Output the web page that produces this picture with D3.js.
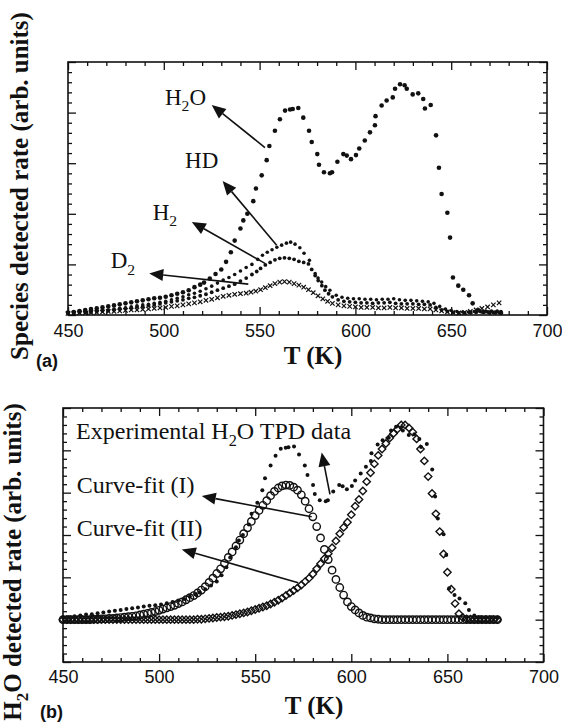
<!DOCTYPE html>
<html>
<head>
<meta charset="utf-8">
<script src="https://cdn.jsdelivr.net/npm/d3@7"></script>
<style>
  body { margin: 0; background: #fff; }
  svg { display: block; }
</style>
</head>
<body>
<svg id="chart"></svg>
<script>
// ---- data (T in K, rate in arbitrary units) ----
// panel (a): TPD spectra, [T, rate]
const h2oPts = [[450,0.05],[453,0.06],[456,0.08],[459,0.1],[462,0.12],[465,0.13],[468,0.15],[471,0.17],[474,0.19],[477,0.21],
  [480,0.23],[483,0.25],[486,0.27],[489,0.29],[492,0.31],[495,0.33],[498,0.34],[501,0.36],[504,0.39],[507,0.42],
  [510,0.45],[513,0.49],[516,0.55],[519,0.6],[521,0.64],[524,0.72],[527,0.81],[530,0.9],[532.5,1.05],[535,1.24],
  [537,1.47],[540,1.71],[541.5,1.87],[543.6,2.0],[546.7,2.25],[548.1,2.5],[551.1,2.76],[553.7,3.06],[555.1,3.34],[558,3.64],
  [560.6,3.87],[563.3,4.04],[565.9,4.06],[567.3,4.07],[570.2,4.09],[572.8,3.9],[575.8,3.64],[577.2,3.42],[580.1,3.18],[581,2.97],
  [583.6,2.82],[586.7,2.8],[587.8,2.82],[590.6,3.03],[593.7,3.18],[595.5,3.15],[597.7,3.08],[600.3,3.16],[602,3.29],[604.9,3.45],
  [607.6,3.61],[610.2,3.75],[610.5,3.93],[613.7,4.14],[616.3,4.24],[619.5,4.3],[620.7,4.47],[623.3,4.56],[625.7,4.54],[626.8,4.47],
  [629.9,4.36],[632.8,4.38],[635.4,4.27],[636.3,4.08],[639.3,4.15],[642.1,3.55],[643.6,2.91],[645,2.39],[648,2.02],[649.4,1.53],
  [650.9,0.74],[653.7,0.58],[656.3,0.5],[659.3,0.39],[661.2,0.23],[664,0.1],[667,0.06],[670,0.05],[673,0.05],[676,0.04]];

const hdPts = [[450,0.05],[453,0.05],[456,0.06],[459,0.07],[462,0.07],[465,0.08],[468,0.09],[471,0.1],[474,0.12],[477,0.13],
  [480,0.14],[483,0.16],[486,0.18],[489,0.2],[492,0.21],[495,0.23],[498,0.25],[501,0.27],[504,0.3],[507,0.33],
  [510,0.36],[513,0.4],[516,0.43],[519,0.47],[522,0.52],[525,0.57],[528,0.63],[531,0.69],[534,0.74],[537,0.8],
  [540,0.87],[543,0.94],[546,1.0],[549,1.1],[551.5,1.18],[554,1.24],[556.5,1.29],[559,1.34],[561.5,1.38],[564,1.42],
  [566.2,1.44],[568.5,1.4],[571,1.33],[573.2,1.22],[576,1.08],[579,0.82],[580.5,0.73],[582.4,0.65],[584.5,0.56],[586.7,0.49],
  [590,0.39],[593,0.35],[596,0.33],[599,0.32],[602,0.32],[605,0.31],[608,0.31],[611,0.3],[614,0.31],[617,0.31],
  [620,0.32],[623,0.3],[626,0.29],[629,0.29],[632,0.28],[635,0.27],[638,0.26],[641,0.23],[644,0.17],[647,0.12],
  [650,0.09],[653,0.07],[656,0.06],[659,0.06],[662,0.07],[665,0.07],[668,0.08],[671,0.08],[674,0.08],[676,0.07]];

const h2Pts = [[450,0.04],[453,0.04],[456,0.05],[459,0.05],[462,0.06],[465,0.07],[468,0.08],[471,0.09],[474,0.1],[477,0.12],
  [480,0.13],[483,0.14],[486,0.16],[489,0.17],[492,0.19],[495,0.2],[498,0.22],[501,0.24],[504,0.26],[507,0.28],
  [510,0.3],[513,0.33],[516,0.35],[519,0.38],[522,0.41],[525,0.45],[528,0.49],[531,0.53],[534,0.57],[537,0.61],
  [540,0.67],[543,0.73],[546,0.8],[548.5,0.86],[550.5,0.92],[553,0.99],[555.5,1.04],[558,1.09],[560.5,1.12],[563,1.13],
  [565.5,1.12],[568,1.1],[570.5,1.06],[573,1.04],[575.5,1.01],[577.2,0.9],[579,0.78],[580.6,0.68],[582.5,0.58],[584.1,0.49],
  [586,0.42],[588,0.36],[591,0.3],[594,0.27],[597,0.26],[600,0.25],[603,0.24],[606,0.24],[609,0.23],[612,0.24],
  [615,0.24],[618,0.25],[621,0.23],[624,0.22],[627,0.22],[630,0.22],[633,0.21],[636,0.21],[639,0.2],[642,0.15],
  [645,0.1],[648,0.07],[651,0.05],[654,0.04],[657,0.04],[660,0.05],[663,0.05],[666,0.06],[669,0.06],[672,0.05],[675,0.05]];

const d2Pts = [[450,0.03],[453,0.03],[456,0.04],[459,0.04],[462,0.05],[465,0.05],[468,0.06],[471,0.07],[474,0.07],[477,0.08],
  [480,0.09],[483,0.1],[486,0.1],[489,0.11],[492,0.12],[495,0.13],[498,0.14],[501,0.15],[504,0.17],[507,0.18],
  [510,0.2],[513,0.22],[516,0.24],[519,0.26],[522,0.29],[525,0.31],[528,0.34],[531,0.37],[534,0.39],[537,0.41],
  [540,0.42],[543,0.43],[545.5,0.45],[548,0.47],[550.5,0.5],[553,0.54],[555.5,0.58],[558,0.62],[560.5,0.65],[563,0.66],
  [565.5,0.65],[568,0.62],[570.5,0.59],[573,0.55],[575.5,0.5],[578,0.44],[580.5,0.38],[583,0.32],[585.5,0.27],[588,0.23],
  [591,0.2],[594,0.18],[597,0.17],[600,0.16],[603,0.15],[606,0.15],[609,0.15],[612,0.14],[615,0.14],[618,0.15],
  [621,0.14],[624,0.14],[627,0.13],[630,0.13],[633,0.13],[636,0.12],[639,0.12],[642,0.1],[645,0.08],[648,0.06],
  [651,0.05],[654,0.04],[657,0.05],[660,0.07],[663,0.1],[666,0.13],[669,0.16],[672,0.2],[675,0.24]];

// panel (b): curve fits on a common temperature grid
const fitT = [450,452,454,456,458,460,462,464,466,468,
  470,472,474,476,478,480,482,484,486,488,
  490,492,494,496,498,500,502,504,506,508,
  510,512,514,516,518,520,522,524,526,528,
  530,532,534,536,538,540,542,544,546,548,
  550,552,554,556,558,560,562,564,566,568,
  570,572,574,576,578,580,582,584,586,588,
  590,592,594,596,598,600,602,604,606,608,
  610,612,614,616,618,620,622,624,626,628,
  630,632,634,636,638,640,642,644,646,648,
  650,652,654,656,658,660,662,664,666,668,
  670,672,674,676];
const fit1 = [0,0,0,0,0,0,0,0,0.01,0.01,
  0.02,0.02,0.03,0.03,0.04,0.05,0.06,0.07,0.08,0.09,
  0.11,0.13,0.15,0.17,0.19,0.22,0.25,0.28,0.31,0.34,
  0.38,0.42,0.47,0.52,0.57,0.63,0.7,0.78,0.88,0.98,
  1.09,1.2,1.33,1.47,1.6,1.74,1.88,2.03,2.17,2.32,
  2.46,2.58,2.7,2.81,2.93,3.03,3.11,3.16,3.18,3.17,
  3.13,3.06,2.95,2.8,2.62,2.43,2.2,1.93,1.66,1.42,
  1.17,0.95,0.76,0.58,0.42,0.31,0.23,0.16,0.1,0.06,
  0.04,0.02,0.01,0,0,0,0,0,0,0,
  0,0,0,0,0,0,0,0,0,0,
  0,0,0,0,0,0,0,0,0,0,
  0,0,0,0];
const fit2 = [0,0,0,0,0,0,0,0,0,0,
  0,0,0,0,0,0,0,0,0,0,
  0,0,0,0,0,0,0,0,0,0,
  0,0,0,0,0,0.01,0.01,0.02,0.03,0.04,
  0.05,0.06,0.07,0.08,0.1,0.12,0.14,0.16,0.18,0.21,
  0.24,0.27,0.3,0.33,0.37,0.41,0.46,0.51,0.57,0.63,
  0.69,0.75,0.82,0.9,0.98,1.08,1.2,1.32,1.44,1.56,
  1.7,1.86,2.03,2.18,2.3,2.48,2.68,2.84,3.04,3.26,
  3.47,3.68,3.88,4.03,4.16,4.29,4.4,4.5,4.6,4.6,
  4.53,4.43,4.27,4.03,3.75,3.38,2.98,2.5,2.08,1.55,
  1.12,0.72,0.38,0.14,0.05,0.02,0.01,0,0,0,
  0,0,0,0];

// axis ticks
const xMajor = [450, 500, 550, 600, 650, 700];
const xMinor = [460,470,480,490,510,520,530,540,560,570,580,590,610,620,630,640,660,670,680,690];
const yMajorA = [0, 1, 2, 3, 4, 5];
const yMinorA = [0.2,0.4,0.6,0.8,1.2,1.4,1.6,1.8,2.2,2.4,2.6,2.8,3.2,3.4,3.6,3.8,4.2,4.4,4.6,4.8];
const yMajorB = [-1, 0, 1, 2, 3, 4, 5];
const yMinorB = [-0.8,-0.6,-0.4,-0.2,0.2,0.4,0.6,0.8,1.2,1.4,1.6,1.8,2.2,2.4,2.6,2.8,3.2,3.4,3.6,3.8,4.2,4.4,4.6,4.8];

// annotations, in data units: [T, rate]
const labelsA = [
  {text: "H_2O", at: [500.6, 4.15]},
  {text: "HD",   at: [511.1, 2.90]},
  {text: "H_2",  at: [494.2, 1.88]},
  {text: "D_2",  at: [472.3, 0.92]}
];
const arrowsA = [
  {from: [552.8, 3.31], to: [525.0, 4.15]},
  {from: [558.9, 1.38], to: [530.7, 2.65]},
  {from: [552.8, 1.02], to: [514.6, 1.84]},
  {from: [544.1, 0.61], to: [492.4, 0.82]}
];
const labelsB = [
  {text: "Experimental H_2O TPD data", at: [456.8, 4.27]},
  {text: "Curve-fit (I)",  at: [457.1, 3.0]},
  {text: "Curve-fit (II)", at: [457.1, 1.98]}
];
const arrowsB = [
  {from: [588.9, 2.96], to: [584.6, 3.95]},
  {from: [579.4, 2.43], to: [522.2, 2.92]},
  {from: [572.4, 0.87], to: [511.8, 1.66]}
];

// ---- drawing ----
const width = 562, height = 723;
const ink = "#111";
const serif = "'Liberation Serif', 'Times New Roman', serif";
const sans = "'Liberation Sans', Arial, sans-serif";

const svg = d3.select("#chart").attr("width", width).attr("height", height);

const boxA = {left: 68, right: 547, top: 62, bottom: 315};
const boxB = {left: 63, right: 543.5, top: 408, bottom: 662};

const xA = d3.scaleLinear().domain([450, 700]).range([boxA.left, boxA.right]);
const yA = d3.scaleLinear().domain([0, 5]).range([boxA.bottom, boxA.top]);
const xB = d3.scaleLinear().domain([450, 700]).range([boxB.left, boxB.right]);
const yB = d3.scaleLinear().domain([-1, 5]).range([boxB.bottom, boxB.top]);

function drawAxes(box, x, y, yMajor, yMinor, pad) {
    let g = svg.append("g");
    let put = (axis, tx, ty) => g.append("g").attr("transform", `translate(${tx},${ty})`).call(axis);

    put(d3.axisBottom(x).tickValues(xMajor).tickSize(-8).tickPadding(pad).tickFormat(d3.format("d")), 0, box.bottom);
    put(d3.axisBottom(x).tickValues(xMinor).tickSize(-4).tickFormat(""), 0, box.bottom);
    put(d3.axisTop(x).tickValues(xMajor).tickSize(-8).tickFormat(""), 0, box.top);
    put(d3.axisTop(x).tickValues(xMinor).tickSize(-4).tickFormat(""), 0, box.top);
    put(d3.axisLeft(y).tickValues(yMajor).tickSize(-8).tickFormat(""), box.left, 0);
    put(d3.axisLeft(y).tickValues(yMinor).tickSize(-4).tickFormat(""), box.left, 0);
    put(d3.axisRight(y).tickValues(yMajor).tickSize(-8).tickFormat(""), box.right, 0);
    put(d3.axisRight(y).tickValues(yMinor).tickSize(-4).tickFormat(""), box.right, 0);

    g.selectAll(".domain").remove();
    g.selectAll(".tick line").attr("stroke", ink).attr("stroke-width", 1.3);
    g.selectAll(".tick text")
        .attr("font-family", sans)
        .attr("font-size", 18)
        .attr("fill", ink);

    g.append("rect")
        .attr("x", box.left).attr("y", box.top)
        .attr("width", box.right - box.left).attr("height", box.bottom - box.top)
        .attr("fill", "none").attr("stroke", ink).attr("stroke-width", 1.6);
}

// text with "_x" meaning subscript x
function richText(g, str, px, py, size) {
    let t = g.append("text").attr("x", px).attr("y", py)
        .attr("font-family", serif).attr("font-size", size).attr("fill", ink);
    let sub = false;
    str.split(/(_\w)/).forEach(p => {
        if (!p) return;
        if (p[0] === "_") {
            t.append("tspan").attr("font-size", size * 0.68).attr("dy", size * 0.28).text(p.slice(1));
            sub = true;
        } else {
            t.append("tspan").attr("dy", sub ? -size * 0.28 : 0).text(p);
            sub = false;
        }
    });
    return t;
}

function drawArrow(g, x, y, a) {
    let x1 = x(a.from[0]), y1 = y(a.from[1]);
    let x2 = x(a.to[0]), y2 = y(a.to[1]);
    let ang = Math.atan2(y2 - y1, x2 - x1);
    let len = 14, hw = 6;
    let bx = x2 - len * Math.cos(ang), by = y2 - len * Math.sin(ang);
    g.append("line")
        .attr("x1", x1).attr("y1", y1).attr("x2", bx).attr("y2", by)
        .attr("stroke", ink).attr("stroke-width", 1.6);
    g.append("path")
        .attr("d", `M${x2},${y2}L${bx - hw * Math.sin(ang)},${by + hw * Math.cos(ang)}` +
                   `L${bx + hw * Math.sin(ang)},${by - hw * Math.cos(ang)}Z`)
        .attr("fill", ink);
}

// ---------- panel (a) ----------
drawAxes(boxA, xA, yA, yMajorA, yMinorA, 9);

let ga = svg.append("g");

ga.append("g").selectAll("path").data(d2Pts).join("path")
    .attr("transform", d => `translate(${xA(d[0])},${yA(d[1])})`)
    .attr("d", "M-2.2,-2.2L2.2,2.2M-2.2,2.2L2.2,-2.2")
    .attr("stroke", ink).attr("stroke-width", 1.2);

[[h2Pts, 1.9], [hdPts, 1.8], [h2oPts, 2.3]].forEach(([pts, r]) => {
    ga.append("g").selectAll("circle").data(pts).join("circle")
        .attr("cx", d => xA(d[0])).attr("cy", d => yA(d[1])).attr("r", r)
        .attr("fill", ink);
});

arrowsA.forEach(a => drawArrow(ga, xA, yA, a));
labelsA.forEach(l => richText(ga, l.text, xA(l.at[0]), yA(l.at[1]), 23));

// ---------- panel (b) ----------
drawAxes(boxB, xB, yB, yMajorB, yMinorB, 8);

let gb = svg.append("g");

gb.append("g").selectAll("circle").data(fitT).join("circle")
    .attr("cx", d => xB(d)).attr("cy", (d, i) => yB(fit1[i])).attr("r", 3.7)
    .attr("fill", "none").attr("stroke", ink).attr("stroke-width", 1.4);

gb.append("g").selectAll("path").data(fitT).join("path")
    .attr("transform", (d, i) => `translate(${xB(d)},${yB(fit2[i])})`)
    .attr("d", "M0,-3.7L3.7,0L0,3.7L-3.7,0Z")
    .attr("fill", "none").attr("stroke", ink).attr("stroke-width", 1.4);

gb.append("g").selectAll("circle").data(h2oPts).join("circle")
    .attr("cx", d => xB(d[0])).attr("cy", d => yB(d[1])).attr("r", 2)
    .attr("fill", ink);

arrowsB.forEach(a => drawArrow(gb, xB, yB, a));
labelsB.forEach(l => richText(gb, l.text, xB(l.at[0]), yB(l.at[1]), 24));

// ---------- titles ----------
let titleA = svg.append("g").attr("transform", "translate(28,186) rotate(-90)");
richText(titleA, "Species detected rate (arb. units)", 0, 0, 25)
    .attr("font-weight", "bold").attr("text-anchor", "middle");

let titleB = svg.append("g").attr("transform", "translate(21,562) rotate(-90)");
richText(titleB, "H_2O detected rate (arb. units)", 0, 0, 25)
    .attr("font-weight", "bold").attr("text-anchor", "middle");

svg.append("text").attr("x", 313).attr("y", 364)
    .attr("text-anchor", "middle").attr("font-family", serif).attr("font-weight", "bold")
    .attr("font-size", 25).attr("fill", ink).text("T (K)");
svg.append("text").attr("x", 314).attr("y", 714)
    .attr("text-anchor", "middle").attr("font-family", serif).attr("font-weight", "bold")
    .attr("font-size", 25).attr("fill", ink).text("T (K)");

svg.append("text").attr("x", 36).attr("y", 367)
    .attr("font-family", sans).attr("font-weight", "bold").attr("font-size", 18)
    .attr("fill", ink).text("(a)");
svg.append("text").attr("x", 40).attr("y", 718)
    .attr("font-family", sans).attr("font-weight", "bold").attr("font-size", 18)
    .attr("fill", ink).text("(b)");
</script>
</body>
</html>
